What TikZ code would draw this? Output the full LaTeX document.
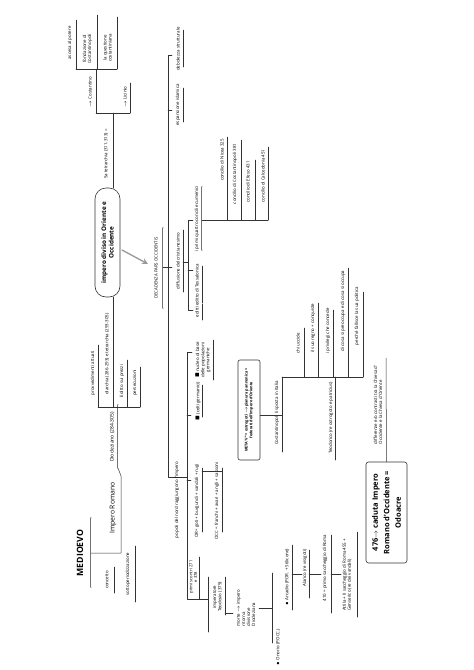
\documentclass[tikz,border=0pt]{standalone}
\usepackage{amssymb}
\usepackage{fontspec}
\setmainfont{Open Sans}
\usetikzlibrary{arrows.meta}

\tikzset{
  lbl/.style={rotate=90, inner sep=0.3pt, font=\fontsize{4.4}{5.1}\selectfont, align=center},
  lblL/.style={lbl, align=left},
  ul/.style={line width=0.5pt, draw=black!80},
  dbl/.style={draw=black!55, double=white, double distance=0.8pt, line width=0.5pt},
  capsule/.style={rotate=90, draw=black!80, line width=0.6pt, align=center, inner sep=1pt},
}

\begin{document}
\begin{tikzpicture}[x=1pt, y=-1pt, line cap=round, line join=round]
\useasboundingbox[fill=white] (0,0) rectangle (474,670);

% medioevo
\node[lbl, font=\fontsize{8.7}{10}\selectfont\bfseries] (medioevo) at (80,553) {MEDIOEVO};
\node[lbl] (concetto) at (107,580) {concetto};
\node[lbl] (sottoper) at (128,574) {sottoperiodizzazione};
\draw[dbl] (91,518) -- (91,587);

% impero romano
\node[lbl, font=\fontsize{6.8}{8}\selectfont] (imperorom) at (113,508) {Impero Romano};
\draw[ul] (91,553) -- (121,553) -- (121,476) -- (118,468);
\node[lbl, font=\fontsize{5}{6}\selectfont] (diocl) at (112,437) {Diocleziano (284-305)};
\draw[dbl] (118,405) -- (118,468);
\node[lbl] (provv) at (93,373) {provvedimenti attuati};
\node[lbl] (diarchia) at (107,354) {diarchia (286-293) e tetrarchia (293-305)};
\node[lbl] (prezzi) at (122,381) {Editto sui prezzi};
\node[lbl] (persec) at (135,383) {persecuzioni};
\draw[ul] (98,407) -- (140,407);

% impero diviso
\node[capsule, rounded corners=11pt, minimum width=109pt, minimum height=25pt,
  font=\fontsize{6.3}{7.6}\selectfont\bfseries] (diviso) at (107.5,242.5)
  {impero diviso in Oriente e\\Occidente};
\node[lbl] (tetra) at (106,154) {5a tetrarchia (311-313) =};
\node[lbl] (costantino) at (90,92) {$\rightarrow$ Costantino};
\node[lbl] (licinio) at (125,97) {$\rightarrow$ Licinio};
\node[lbl] (ascesa) at (70,43) {ascesa al potere};
\node[lbl] (fondaz) at (87.5,49) {fondazione di\\Costantinopoli};
\node[lbl] (questione) at (107.5,48) {la questione\\costantiniana};
\draw[ul] (96,113) -- (130,113);
\draw[ul] (76,69) -- (117,69);

% decadenza
\draw[-{Stealth[length=6pt,width=6pt]}, line width=1.3pt, black!40] (122,250) -- (148,264);
\node[lbl, font=\fontsize{4.3}{5}\selectfont] (decad) at (156,268) {DECADENZA PARS OCCIDENTIS};
\draw[dbl] (163,228) -- (163,308);
\draw[ul] (163,267) -- (172,267);
\draw[ul] (172,55) -- (168,55) -- (168,477) -- (187,477);
\draw[ul] (168,110) -- (172,110);
\node[lbl] (debol) at (178,49) {debolezza strutturale};
\node[lbl] (espans) at (178,105) {espansione islamica};
\node[lbl] (diffus) at (178,261) {diffusione del cristianesimo};
\draw[ul] (183,262) -- (188,262);
\draw[ul] (193,220) -- (188,220) -- (188,310) -- (193,310);
\draw[ul] (188,270) -- (193,270);
\node[lbl] (editti) at (197,312) {editti};
\node[lbl] (tessal) at (197,285) {editto di Tessalonica};
\node[lbl] (concili) at (197,219) {i primi quattro concili ecumenici};
\draw[dbl] (202,187) -- (202,250);
\draw[ul] (202,220) -- (268,220);
\node[lbl] (nicea) at (222,160) {concilio di Nicea 325};
\node[lbl] (costpoli) at (235,174) {concilio di Costantinopoli 381};
\node[lbl] (efeso) at (248,182) {concilio di Efeso 431};
\node[lbl] (calced) at (263,176) {concilio di Calcedonia 451};

% popoli
\node[lbl] (popoli) at (177,500) {popoli del nord raggiungono l'impero};
\draw[ul] (192,352) -- (187,352) -- (187,599) -- (208,599);
\draw[ul] (187,415) -- (191,415);
\draw[ul] (187,480) -- (191,480);
\node[lbl] (nucleo) at (203,360) {$\blacksquare$ nucleo di base\\delle popolazioni\\germaniche};
\node[lbl] (celti) at (198,401) {$\blacksquare$ (celti germanici)};
\node[lbl] (orr) at (197,501) {OR= goti + burgundi + vandali + rugi};
\node[lbl] (occ) at (217,501) {OCC = franchi + avari + angli + sassoni};
\draw[ul] (202,471) -- (222,471);
\node[lbl, font=\fontsize{4.2}{4.6}\selectfont] (primi) at (193.2,577) {primi scontri 271\\e 378};
\draw[ul] (208,577) -- (208,632);
\node[lbl] (teodosio) at (217.5,597) {imperatore\\Teodosio (379)};
\draw[ul] (225,613) -- (233,613);
\node[lblL] (morte) at (246,608) {morte $\rightarrow$ impero\\ritorna\\divisione\\Diocleziana};
\draw[ul] (259,608) -- (272,608);
\draw[ul] (272,573) -- (272,643);
\node[lbl] (onorio) at (278,647) {$\bullet$ Onorio (P.OCC.)};
\node[lbl] (arcadio) at (287,577) {$\bullet$ Arcadio (P.OR. + Stilicone)};
\draw[ul] (292,574) -- (302,574);
\node[lbl] (alarico) at (305,568) {Alarico (re visigoti)};
\draw[ul] (309,574) -- (321,574);
\node[lbl] (sacco) at (325,568) {410 = primo saccheggio di Roma};
\draw[ul] (331,574) -- (341,574);
\node[lblL] (attila) at (347,575) {Attila + II saccheggio di Roma 455 +\\Genserico (re dei vandali)};

% underlines
\foreach \x/\a/\b in {114/567/593, 135/546/602, 98/345/407, 113/297/407, 127/360/407,
  140/367/407, 113/113/188, 96/69/113, 130/83/113, 76/20/69, 97/15/69, 117/17/69,
  183/30/67, 183/88/122, 183/230/292, 202/304/320, 202/266/303,
  227/137/220, 241/140/220, 255/160/220, 268/147/220,
  213/340/380, 202/385/417, 202/468/532, 222/468/532, 199/557/599, 225/577/615,
  292/545/610, 309/550/598, 331/535/613, 357/532/617,
  282/377/452, 335/377/460, 304/328/377, 318/303/377, 333/310/377, 348/268/377, 363/292/377}
  \draw[ul] (\x,\a) -- (\x,\b);

% meta / teodorico
\node[capsule, rounded corners=2pt, minimum width=100pt, minimum height=22pt,
  font=\fontsize{3.8}{4.8}\selectfont\bfseries] (meta) at (249,410)
  {META' V° = ostrogoti $\rightarrow$pianura pannonica =\\federati dell'Impero d'Oriente};
\node[lbl] (costit) at (277,413) {Costantinopoli li sposta in Italia};
\draw[ul] (meta.south |- 0,415) -- (282,415);
\draw[ul] (282,377) -- (363,377);
\node[lbl] (teodorico) at (331,418) {Teodorico (re ostrogoto e patricius)};
\node[lbl] (chi) at (298,343) {chi uccide};
\node[lbl] (regno) at (313,328) {il suo regno + conquiste};
\node[lbl] (privilegi) at (328,331) {i privilegi che concede};
\node[lbl] (cosa) at (343,311) {di cosa si preoccupa e di cosa si occupa};
\node[lbl] (perche) at (357,316) {perché fallisce la sua politica};

% odoacre
\node[lblL] (differenze) at (378,405) {differenze e/o contrasti tra la Chiesa d'\\Occidente e la Chiesa d'Oriente};
\node[capsule, rounded corners=2.5pt, minimum width=101pt, minimum height=41pt,
  font=\fontsize{7.5}{11.5}\selectfont\bfseries] (odoacre) at (386.5,512.5)
  {476$\rightarrow$ caduta Impero\\Romano d'Occidente =\\Odoacre};
\draw[ul] (odoacre.east) -- (386,358);
\end{tikzpicture}
\end{document}
